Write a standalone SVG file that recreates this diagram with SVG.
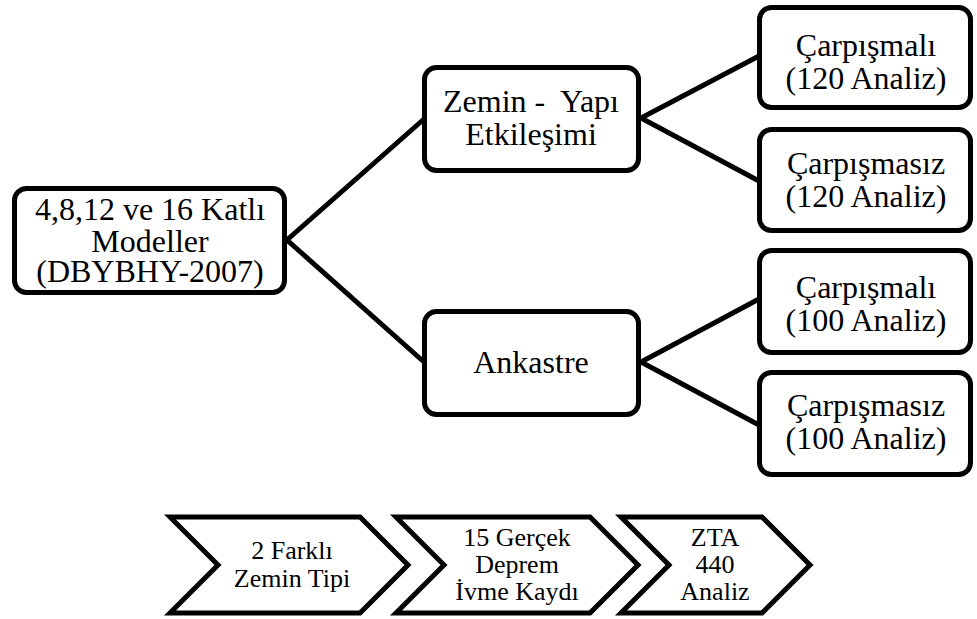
<svg xmlns="http://www.w3.org/2000/svg" width="977" height="619" viewBox="0 0 977 619">
<style>
.box{fill:#fff;stroke:#000;stroke-width:5}
.chev{fill:#fff;stroke:#000;stroke-width:5;stroke-linejoin:miter}
.conn{fill:none;stroke:#000;stroke-width:5;stroke-linejoin:miter}
text{font-family:'Liberation Serif','Times New Roman',serif;fill:#000;text-anchor:middle}
.t{font-size:32px}
.s{font-size:26px}
</style>
<rect width="977" height="619" fill="#fff"/>
<g id="connectors">
<polyline class="conn" points="424,119 287,240 424,362"/>
<polyline class="conn" points="759,56 641,118 759,181"/>
<polyline class="conn" points="759,299 641,362 759,425"/>
</g>
<g id="models">
<rect class="box" x="14.5" y="188.5" width="270" height="104" rx="12"/>
<text class="t" x="150" y="220">4,8,12 ve 16 Katlı</text>
<text class="t" x="150" y="252">Modeller</text>
<text class="t" x="150" y="282">(DBYBHY-2007)</text>
</g>
<g id="zemin-yapi">
<rect class="box" x="424.5" y="67.5" width="214" height="103" rx="12"/>
<text class="t" x="531" y="112" xml:space="preserve">Zemin -  Yapı</text>
<text class="t" x="531" y="145">Etkileşimi</text>
</g>
<g id="ankastre">
<rect class="box" x="424.5" y="311.5" width="214" height="103" rx="12"/>
<text class="t" x="531" y="373">Ankastre</text>
</g>
<g id="carpismali-120">
<rect class="box" x="759.5" y="7.5" width="211" height="100" rx="12"/>
<text class="t" x="866" y="56">Çarpışmalı</text>
<text class="t" x="866" y="89">(120 Analiz)</text>
</g>
<g id="carpismasiz-120">
<rect class="box" x="759.5" y="129.5" width="211" height="101" rx="12"/>
<text class="t" x="866" y="174">Çarpışmasız</text>
<text class="t" x="866" y="207">(120 Analiz)</text>
</g>
<g id="carpismali-100">
<rect class="box" x="759.5" y="250.5" width="211" height="102" rx="12"/>
<text class="t" x="866" y="298">Çarpışmalı</text>
<text class="t" x="866" y="331">(100 Analiz)</text>
</g>
<g id="carpismasiz-100">
<rect class="box" x="759.5" y="372.5" width="211" height="102" rx="12"/>
<text class="t" x="866" y="416">Çarpışmasız</text>
<text class="t" x="866" y="449">(100 Analiz)</text>
</g>
<g id="step-zemin-tipi">
<polygon class="chev" points="170,517 360,517 408,565 360,613 170,613 218,565"/>
<text class="s" x="292" y="559">2 Farklı</text>
<text class="s" x="292" y="587">Zemin Tipi</text>
</g>
<g id="step-ivme">
<polygon class="chev" points="396,517 590,517 638,565 590,613 396,613 444,565"/>
<text class="s" x="517" y="546">15 Gerçek</text>
<text class="s" x="517" y="573">Deprem</text>
<text class="s" x="517" y="600">İvme Kaydı</text>
</g>
<g id="step-zta">
<polygon class="chev" points="621,517 762,517 810,565 762,613 621,613 669,565"/>
<text class="s" x="715" y="546">ZTA</text>
<text class="s" x="715" y="573">440</text>
<text class="s" x="715" y="600">Analiz</text>
</g>
</svg>
